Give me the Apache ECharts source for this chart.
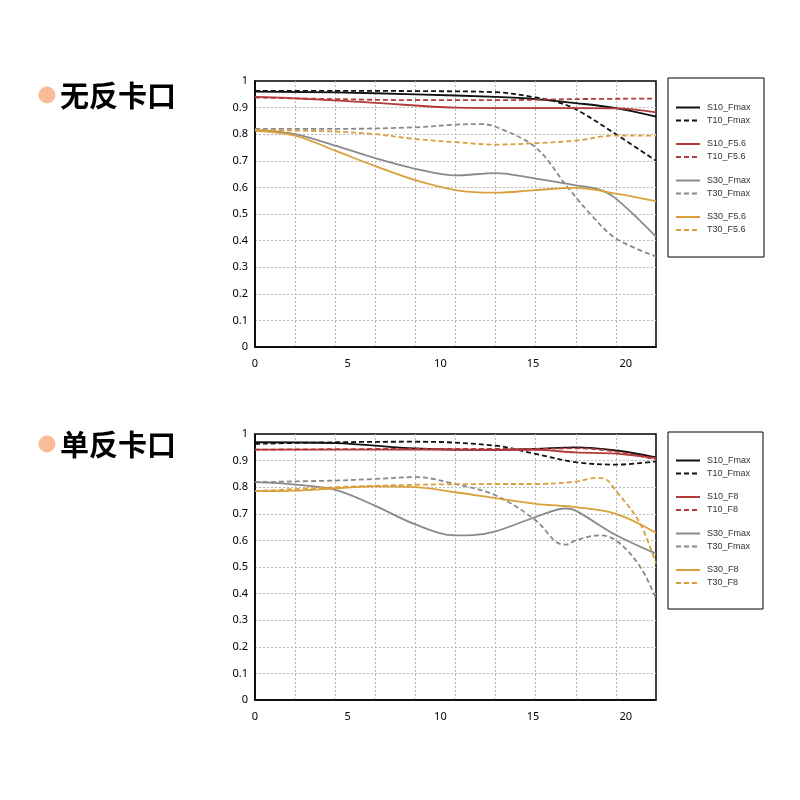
<!DOCTYPE html>
<html>
<head>
<meta charset="utf-8">
<script src="https://cdn.jsdelivr.net/npm/echarts@6/dist/echarts.min.js"></script>
<style>html,body{margin:0;padding:0;background:#fff;}#c{width:800px;height:800px;}</style>
</head>
<body>
<div id="c"></div>
<script>
// ---- data ----
const titles = ['无反卡口', '单反卡口'];
const xTickLabels = [0, 5, 10, 15, 20];
const xMax = 21.63;
const namesTop = ['S10_Fmax', 'T10_Fmax', 'S10_F5.6', 'T10_F5.6', 'S30_Fmax', 'T30_Fmax', 'S30_F5.6', 'T30_F5.6'];
const namesBottom = ['S10_Fmax', 'T10_Fmax', 'S10_F8', 'T10_F8', 'S30_Fmax', 'T30_Fmax', 'S30_F8', 'T30_F8'];

// mirrorless (top)
const top_S10_Fmax = [[0,0.96],[4.33,0.957],[8.65,0.95],[12.98,0.94],[15.14,0.932],[17.3,0.917],[19.47,0.898],[21.63,0.866]];
const top_T10_Fmax = [[0,0.963],[4.33,0.963],[8.65,0.962],[12.98,0.958],[15.14,0.938],[16.25,0.922],[17.3,0.894],[19.47,0.80],[21.63,0.70]];
const top_S10_F56 = [[0,0.94],[3.0,0.932],[6.49,0.918],[10.81,0.90],[15.14,0.898],[19.47,0.897],[21.63,0.882]];
const top_T10_F56 = [[0,0.938],[4.33,0.932],[8.65,0.928],[12.98,0.928],[17.3,0.932],[21.63,0.934]];
const top_S30_Fmax = [[0,0.816],[2.16,0.80],[4.33,0.757],[6.49,0.71],[8.65,0.67],[10.81,0.645],[12.98,0.654],[15.14,0.633],[17.3,0.608],[18.58,0.592],[19.47,0.558],[21.63,0.415]];
const top_T30_Fmax = [[0,0.82],[4.33,0.82],[8.65,0.826],[10.81,0.836],[12.12,0.838],[12.98,0.828],[15.14,0.75],[16.87,0.60],[18.22,0.49],[19.47,0.408],[21.63,0.34]];
const top_S30_F56 = [[0,0.813],[2.16,0.795],[4.33,0.738],[6.49,0.68],[8.65,0.627],[10.81,0.59],[12.98,0.58],[15.14,0.59],[17.3,0.598],[19.47,0.577],[21.63,0.548]];
const top_T30_F56 = [[0,0.816],[4.33,0.81],[6.49,0.80],[8.65,0.782],[10.81,0.77],[12.98,0.761],[15.14,0.766],[17.3,0.776],[19.47,0.795],[21.63,0.795]];

// SLR (bottom)
const bot_S10_Fmax = [[0,0.969],[4.33,0.966],[8.65,0.946],[12.98,0.94],[15.14,0.944],[17.3,0.95],[19.47,0.938],[21.63,0.912]];
const bot_T10_Fmax = [[0,0.963],[4.33,0.969],[8.65,0.971],[12.98,0.956],[15.14,0.925],[17.3,0.894],[19.47,0.885],[21.63,0.897]];
const bot_S10_F8 = [[0,0.941],[8.65,0.941],[15.14,0.94],[17.3,0.931],[19.47,0.926],[21.63,0.909]];
const bot_T10_F8 = [[0,0.941],[8.65,0.944],[15.14,0.944],[17.3,0.946],[19.47,0.934],[21.63,0.904]];
const bot_S30_Fmax = [[0,0.819],[2.16,0.81],[4.33,0.79],[6.49,0.73],[8.65,0.66],[10.81,0.619],[11.76,0.62],[12.98,0.634],[15.14,0.688],[16.78,0.72],[17.3,0.712],[19.47,0.62],[21.63,0.55]];
const bot_T30_Fmax = [[0,0.819],[4.33,0.825],[6.49,0.831],[8.65,0.838],[10.81,0.812],[12.98,0.769],[15.14,0.675],[16.25,0.594],[16.78,0.584],[17.3,0.6],[18.58,0.619],[19.47,0.6],[20.73,0.506],[21.63,0.382]];
const bot_S30_F8 = [[0,0.785],[2.16,0.787],[4.33,0.796],[6.49,0.803],[8.65,0.8],[10.81,0.781],[12.98,0.759],[15.14,0.737],[17.3,0.725],[19.47,0.7],[21.63,0.629]];
const bot_T30_F8 = [[0,0.785],[4.33,0.8],[8.65,0.809],[12.98,0.812],[15.14,0.812],[17.3,0.821],[18.4,0.835],[18.94,0.829],[19.47,0.787],[20.73,0.669],[21.63,0.513]];

// ---- styling ----
const colors = ['#111111', '#111111', '#B23A3B', '#B23A3B', '#8A8A8A', '#8A8A8A', '#D9A03C', '#D9A03C'];
const dashed = [false, true, false, true, false, true, false, true];
const topData = [top_S10_Fmax, top_T10_Fmax, top_S10_F56, top_T10_F56, top_S30_Fmax, top_T30_Fmax, top_S30_F56, top_T30_F56];
const botData = [bot_S10_Fmax, bot_T10_Fmax, bot_S10_F8, bot_T10_F8, bot_S30_Fmax, bot_T30_Fmax, bot_S30_F8, bot_T30_F8];

const gridTops = [81, 434];
const legendTops = [98, 451];
const boxes = [[668, 78, 96, 179], [668, 432, 95, 177]];
const titleY = [96, 445];

const grids = [], xAxes = [], yAxes = [], series = [], legends = [], graphics = [];
const gridLine = {show: true, showMinLine: false, showMaxLine: false, lineStyle: {color: '#b8b8b8', type: [2, 2], width: 1}};
const labelStyle = {color: '#000', fontSize: 11, fontFamily: 'Noto Sans, sans-serif'};

[0, 1].forEach(function (g) {
  grids.push({left: 255, top: gridTops[g], width: 401, height: 266, show: true, borderColor: '#000', borderWidth: 1.5, backgroundColor: 'transparent'});
  // label axis
  xAxes.push({type: 'value', gridIndex: g, min: 0, max: xMax, interval: 5,
    axisLine: {show: true, lineStyle: {color: '#000', width: 1.5}}, axisTick: {show: false},
    splitLine: {show: false}, axisLabel: Object.assign({margin: 11, showMaxLabel: false,
      formatter: function (v) { return xTickLabels.indexOf(v) >= 0 ? String(v) : ''; }}, labelStyle)});
  // grid-line axis
  xAxes.push({type: 'value', gridIndex: g, min: 0, max: xMax, interval: xMax / 10,
    axisLine: {show: false}, axisTick: {show: false}, axisLabel: {show: false}, splitLine: gridLine});
  yAxes.push({type: 'value', gridIndex: g, min: 0, max: 1, interval: 0.1,
    axisLine: {show: true, lineStyle: {color: '#000', width: 1.5}}, axisTick: {show: false},
    splitLine: gridLine, axisLabel: Object.assign({margin: 7}, labelStyle)});

  const names = g === 0 ? namesTop : namesBottom;
  const datas = g === 0 ? topData : botData;
  names.forEach(function (n, i) {
    series.push({name: n, type: 'line', xAxisIndex: g * 2, yAxisIndex: g, data: datas[i],
      symbol: 'none', smooth: 0.35, z: 3,
      lineStyle: {color: colors[i], width: 1.8, type: dashed[i] ? [5, 3] : 'solid'},
      itemStyle: {color: colors[i]}});
  });
  for (let k = 0; k < 4; k++) {
    legends.push({orient: 'vertical', left: 670, top: legendTops[g] + k * 36.5,
      data: [names[2 * k], names[2 * k + 1]], itemWidth: 24, itemHeight: 10, itemGap: 4,
      selectedMode: false,
      itemStyle: {opacity: 0, color: 'transparent', borderWidth: 0},
      lineStyle: {width: 2},
      textStyle: {fontSize: 9, color: '#333', fontFamily: 'Liberation Sans, Arial, sans-serif', padding: [0, 0, 0, 2]}});
  }
  graphics.push({type: 'rect', shape: {x: boxes[g][0], y: boxes[g][1], width: boxes[g][2], height: boxes[g][3]},
    style: {fill: 'none', stroke: '#000', lineWidth: 1}});
  graphics.push({type: 'circle', shape: {cx: 47, cy: titleY[g] - 1, r: 8.5}, style: {fill: '#F8BD96'}});
  graphics.push({type: 'text', x: 60, y: titleY[g], style: {text: titles[g], fill: '#000',
    font: 'bold 29px "Noto Sans CJK SC", sans-serif', verticalAlign: 'middle', textAlign: 'left'}});
});

const chart = echarts.init(document.getElementById('c'), null, {renderer: 'canvas'});
chart.setOption({
  animation: false,
  backgroundColor: '#fff',
  grid: grids, xAxis: xAxes, yAxis: yAxes, series: series, legend: legends, graphic: graphics
});
</script>
</body>
</html>
